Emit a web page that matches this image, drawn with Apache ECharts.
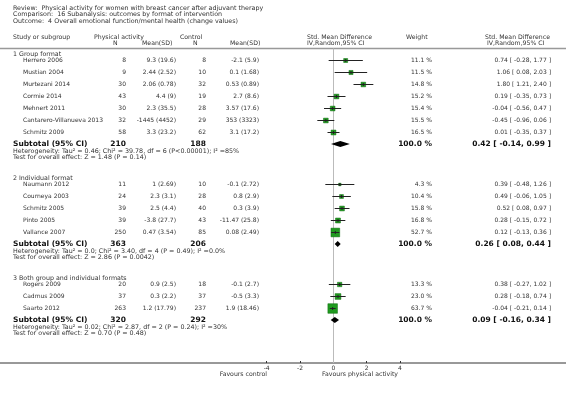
<!DOCTYPE html>
<html>
<head>
<meta charset="utf-8">
<script src="https://cdn.jsdelivr.net/npm/echarts@6/dist/echarts.min.js"></script>
<style>
  html, body { margin: 0; padding: 0; background: #fff; }
  #chart { width: 566px; height: 393px; }
</style>
</head>
<body>
<div id="chart"></div>
<script>
// --- data ---
var groupNames = ['1 Group format', '2 Individual format', '3 Both group and individual formats'];
var studyNames = ['Herrero 2006', 'Mustian 2004', 'Murtezani 2014', 'Cormie 2014', 'Mehnert 2011',
  'Cantarero-Villanueva 2013', 'Schmitz 2009',
  'Naumann 2012', 'Courneya 2003', 'Schmitz 2005', 'Pinto 2005', 'Vallance 2007',
  'Rogers 2009', 'Cadmus 2009', 'Saarto 2012'];
var studyGroup = [0, 0, 0, 0, 0, 0, 0, 1, 1, 1, 1, 1, 2, 2, 2];
var paN = [8, 9, 30, 43, 30, 32, 58, 11, 24, 39, 39, 250, 20, 37, 263];
var paMeanSD = ['9.3 (19.6)', '2.44 (2.52)', '2.06 (0.78)', '4.4 (9)', '2.3 (35.5)', '-1445 (4452)', '3.3 (23.2)',
  '1 (2.69)', '2.3 (3.1)', '2.5 (4.4)', '-3.8 (27.7)', '0.47 (3.54)',
  '0.9 (2.5)', '0.3 (2.2)', '1.2 (17.79)'];
var ctN = [8, 10, 32, 19, 28, 29, 62, 10, 28, 40, 43, 85, 18, 37, 237];
var ctMeanSD = ['-2.1 (5.9)', '0.1 (1.68)', '0.53 (0.89)', '2.7 (8.6)', '3.57 (17.6)', '353 (3323)', '3.1 (17.2)',
  '-0.1 (2.72)', '0.8 (2.9)', '0.3 (3.9)', '-11.47 (25.8)', '0.08 (2.49)',
  '-0.1 (2.7)', '-0.5 (3.3)', '1.9 (18.46)'];
var weight = [11.1, 11.5, 14.8, 15.2, 15.4, 15.5, 16.5, 4.3, 10.4, 15.8, 16.8, 52.7, 13.3, 23.0, 63.7];
var smd = [0.74, 1.06, 1.80, 0.19, -0.04, -0.45, 0.01, 0.39, 0.49, 0.52, 0.28, 0.12, 0.38, 0.28, -0.04];
var ciLow = [-0.28, 0.08, 1.21, -0.35, -0.56, -0.96, -0.35, -0.48, -0.06, 0.08, -0.15, -0.13, -0.27, -0.18, -0.21];
var ciHigh = [1.77, 2.03, 2.40, 0.73, 0.47, 0.06, 0.37, 1.26, 1.05, 0.97, 0.72, 0.36, 1.02, 0.74, 0.14];

var subPaN = [210, 363, 320];
var subCtN = [188, 206, 292];
var subSmd = [0.42, 0.26, 0.09];
var subLow = [-0.14, 0.08, -0.16];
var subHigh = [0.99, 0.44, 0.34];
var hetText = [
  'Heterogeneity: Tau\u00b2 = 0.46; Chi\u00b2 = 39.78, df = 6 (P<0.00001); I\u00b2 =85%',
  'Heterogeneity: Tau\u00b2 = 0.0; Chi\u00b2 = 3.40, df = 4 (P = 0.49); I\u00b2 =0.0%',
  'Heterogeneity: Tau\u00b2 = 0.02; Chi\u00b2 = 2.87, df = 2 (P = 0.24); I\u00b2 =30%'];
var testText = [
  'Test for overall effect: Z = 1.48 (P = 0.14)',
  'Test for overall effect: Z = 2.86 (P = 0.0042)',
  'Test for overall effect: Z = 0.70 (P = 0.48)'];
var xTicks = [-4, -2, 0, 2, 4];

// --- row layout (vertical position of each line, in px from top) ---
var FONT = '"DejaVu Sans", Verdana, sans-serif';
var txtColor = '#333';
var studyY = [], groupY = [], subY = [], hetY = [], testY = [];
var y = 54;
for (var g = 0; g < groupNames.length; g++) {
  groupY.push(y);
  y += 6.5;
  for (var i = 0; i < studyNames.length; i++) {
    if (studyGroup[i] !== g) continue;
    studyY[i] = y;
    y += 12;
  }
  y -= 0.5;
  subY.push(y);
  hetY.push(y + 7.5);
  testY.push(y + 13.5);
  y += 13.5 + 20.5;
}

function fmt(v) { return (v < 0 ? '-' : '') + Math.abs(v).toFixed(2); }
function ciStr(e, l, h) { return fmt(e) + ' [ ' + fmt(l) + ', ' + fmt(h) + ' ]'; }

function txt(x, yy, s, opt) {
  opt = opt || {};
  return {
    type: 'text', x: x, y: yy, silent: true,
    style: {
      text: s, fill: opt.color || txtColor,
      font: (opt.bold ? 'bold ' : '') + (opt.size || 6) + 'px ' + FONT,
      textAlign: opt.align || 'left', textVerticalAlign: 'middle'
    }
  };
}

var graphics = [];
// header
graphics.push(txt(13, 8, 'Review:  Physical activity for women with breast cancer after adjuvant therapy', { size: 6.35 }));
graphics.push(txt(13, 14.5, 'Comparison:  16 Subanalysis: outcomes by format of intervention', { size: 6.35 }));
graphics.push(txt(13, 21, 'Outcome:  4 Overall emotional function/mental health (change values)', { size: 6.35 }));
graphics.push(txt(13, 37, 'Study or subgroup', { size: 6.2 }));
graphics.push(txt(94, 37, 'Physical activity', { size: 6.2 }));
graphics.push(txt(113, 43, 'N', { size: 6.2 }));
graphics.push(txt(142, 43, 'Mean(SD)', { size: 6.2 }));
graphics.push(txt(180, 37, 'Control', { size: 6.2 }));
graphics.push(txt(193, 43, 'N', { size: 6.2 }));
graphics.push(txt(230, 43, 'Mean(SD)', { size: 6.2 }));
graphics.push(txt(307, 37, 'Std. Mean Difference', { size: 6.2 }));
graphics.push(txt(307, 43, 'IV,Random,95% CI', { size: 6.2 }));
graphics.push(txt(406, 37, 'Weight', { size: 6.2 }));
graphics.push(txt(485, 37, 'Std. Mean Difference', { size: 6.2 }));
graphics.push(txt(487, 43, 'IV,Random,95% CI', { size: 6.2 }));
graphics.push({ type: 'line', silent: true, shape: { x1: 0, y1: 48.5, x2: 566, y2: 48.5 },
  style: { stroke: '#999', lineWidth: 1.5 } });

// study rows
for (var k = 0; k < studyNames.length; k++) {
  var sy = studyY[k];
  graphics.push(txt(23, sy, studyNames[k]));
  graphics.push(txt(126, sy, String(paN[k]), { align: 'right' }));
  graphics.push(txt(176, sy, paMeanSD[k], { align: 'right' }));
  graphics.push(txt(206, sy, String(ctN[k]), { align: 'right' }));
  graphics.push(txt(259, sy, ctMeanSD[k], { align: 'right' }));
  graphics.push(txt(432, sy, weight[k].toFixed(1) + ' %', { align: 'right' }));
  graphics.push(txt(551, sy, ciStr(smd[k], ciLow[k], ciHigh[k]), { align: 'right' }));
}
// group headers, subtotals, heterogeneity
for (var gg = 0; gg < groupNames.length; gg++) {
  graphics.push(txt(13, groupY[gg], groupNames[gg], { size: 6.3 }));
  graphics.push(txt(13, subY[gg], 'Subtotal (95% CI)', { bold: true, size: 7.5, color: '#111' }));
  graphics.push(txt(126, subY[gg], String(subPaN[gg]), { bold: true, size: 7.5, align: 'right', color: '#111' }));
  graphics.push(txt(206, subY[gg], String(subCtN[gg]), { bold: true, size: 7.5, align: 'right', color: '#111' }));
  graphics.push(txt(432, subY[gg], '100.0 %', { bold: true, size: 7.5, align: 'right', color: '#111' }));
  graphics.push(txt(551, subY[gg], ciStr(subSmd[gg], subLow[gg], subHigh[gg]), { bold: true, size: 7.5, align: 'right', color: '#111' }));
  graphics.push(txt(13, hetY[gg], hetText[gg], { size: 6.35 }));
  graphics.push(txt(13, testY[gg], testText[gg], { size: 6.35 }));
}
// bottom axis line across the page and favour labels
graphics.push({ type: 'line', silent: true, shape: { x1: 0, y1: 363, x2: 566, y2: 363 },
  style: { stroke: '#333', lineWidth: 1 } });
graphics.push(txt(267, 374, 'Favours control', { align: 'right', size: 6.2 }));
graphics.push(txt(322, 374, 'Favours physical activity', { size: 6.2 }));

// series data
var studyData = [];
for (var m = 0; m < studyNames.length; m++) {
  studyData.push([smd[m], studyY[m], ciLow[m], ciHigh[m], weight[m]]);
}
var subData = [];
for (var n = 0; n < subSmd.length; n++) {
  subData.push([subSmd[n], subY[n], subLow[n], subHigh[n]]);
}

var chart = echarts.init(document.getElementById('chart'), null, { renderer: 'canvas' });
chart.setOption({
  animation: false,
  backgroundColor: '#fff',
  grid: { left: 266.67, width: 133.33, top: 48.5, height: 314.5 },
  xAxis: {
    type: 'value', min: -4, max: 4, interval: 2,
    splitLine: { show: false },
    axisLine: { show: false },
    axisTick: { show: true, inside: true, length: 2, lineStyle: { color: '#333' } },
    axisLabel: { show: true, margin: 2, fontSize: 6, fontFamily: 'DejaVu Sans', color: txtColor,
      customValues: xTicks },
  },
  yAxis: {
    type: 'value', min: 48.5, max: 363, inverse: true, show: false
  },
  graphic: graphics,
  series: [
    {
      name: 'studies', type: 'custom', data: studyData, z: 5,
      renderItem: function (params, api) {
        var c = api.coord([api.value(0), api.value(1)]);
        var lo = api.coord([api.value(2), api.value(1)]);
        var hi = api.coord([api.value(3), api.value(1)]);
        var s = 1.2 * Math.sqrt(api.value(4));
        return {
          type: 'group',
          children: [
            { type: 'rect', shape: { x: c[0] - s / 2, y: c[1] - s / 2, width: s, height: s },
              style: { fill: '#1f9a1f', stroke: '#0d6b0d', lineWidth: 0.5 } },
            { type: 'line', shape: { x1: lo[0], y1: c[1], x2: hi[0], y2: c[1] },
              style: { stroke: '#222', lineWidth: 1 } },
            { type: 'line', shape: { x1: c[0], y1: c[1] - 1.5, x2: c[0], y2: c[1] + 1.5 },
              style: { stroke: '#222', lineWidth: 1 } }
          ]
        };
      },
      markLine: {
        silent: true, symbol: 'none', label: { show: false },
        lineStyle: { color: '#bbb', width: 1, type: 'solid' },
        data: [{ xAxis: 0 }]
      }
    },
    {
      name: 'subtotals', type: 'custom', data: subData, z: 6,
      renderItem: function (params, api) {
        var c = api.coord([api.value(0), api.value(1)]);
        var lo = api.coord([api.value(2), api.value(1)]);
        var hi = api.coord([api.value(3), api.value(1)]);
        return {
          type: 'polygon',
          shape: { points: [[lo[0], c[1]], [c[0], c[1] - 3], [hi[0], c[1]], [c[0], c[1] + 3]] },
          style: { fill: '#000' }
        };
      }
    }
  ]
});
</script>
</body>
</html>
